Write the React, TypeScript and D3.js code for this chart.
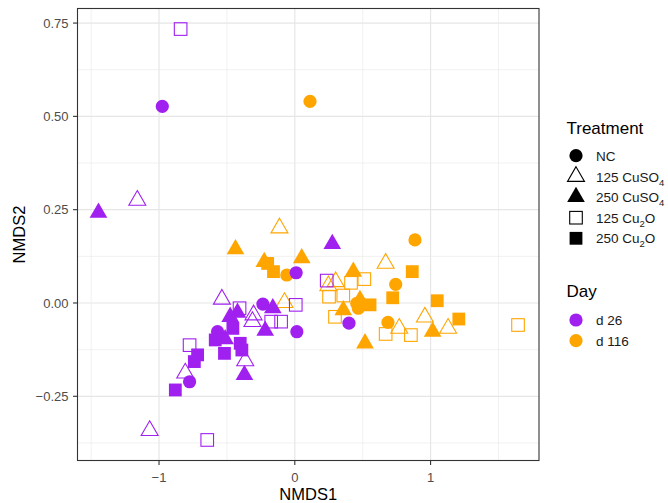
import * as d3 from "d3";
import React from "react";

// treatment / day groups, NMDS coordinates
const treatments = ["NC", "125 CuSO4", "250 CuSO4", "125 Cu2O", "250 Cu2O"];
const days = ["d 26", "d 116"];
const dayColors = ["#A020F0", "#FFA500"];

const ncD26 = [[-0.976, 0.527], [-0.235, -0.003], [0.010, 0.081], [0.015, -0.077], [-0.569, -0.077], [-0.775, -0.211], [0.399, -0.054]];
const ncD116 = [[0.112, 0.540], [0.885, 0.169], [-0.059, 0.075], [0.743, 0.050], [0.456, -0.001], [0.468, -0.014], [0.686, -0.052]];
const cuso125D26 = [[-1.160, 0.275], [-0.537, 0.010], [-0.304, -0.032], [-0.312, -0.050], [-0.365, -0.155], [-0.807, -0.188], [-1.069, -0.342]];
const cuso125D116 = [[-0.113, 0.201], [-0.076, 0.001], [0.669, 0.106], [0.301, 0.057], [0.247, 0.046], [0.958, -0.038], [0.769, -0.068], [1.129, -0.068]];
const cuso250D26 = [[-1.446, 0.242], [0.276, 0.158], [-0.422, -0.026], [-0.476, -0.037], [-0.162, -0.014], [-0.218, -0.074], [-0.513, -0.097], [-0.371, -0.193]];
const cuso250D116 = [[-0.437, 0.144], [0.051, 0.120], [-0.225, 0.110], [0.431, 0.084], [0.357, -0.019], [0.517, -0.108], [1.015, -0.077], [0.480, 0.008]];
const cu2o125D26 = [[-0.841, 0.734], [-0.407, -0.014], [0.007, -0.005], [-0.174, -0.050], [-0.101, -0.050], [-0.775, -0.113], [-0.645, -0.367], [0.235, 0.060]];
const cu2o125D116 = [[0.512, 0.064], [0.414, 0.054], [0.252, 0.017], [0.357, 0.020], [0.296, -0.037], [0.669, -0.083], [0.855, -0.086], [1.644, -0.059]];
const cu2o250D26 = [[-0.456, -0.068], [-0.586, -0.099], [-0.518, -0.135], [-0.402, -0.108], [-0.390, -0.126], [-0.716, -0.139], [-0.740, -0.157], [-0.880, -0.233]];
const cu2o250D116 = [[-0.200, 0.106], [-0.157, 0.084], [0.865, 0.084], [0.721, 0.014], [0.554, -0.005], [1.049, 0.006], [1.208, -0.043]];

const xTicks = [-1, 0, 1];
const yTicks = [0.75, 0.5, 0.25, 0, -0.25];

const groups = [
  { t: 0, d: 1, pts: ncD116 }, { t: 1, d: 1, pts: cuso125D116 }, { t: 2, d: 1, pts: cuso250D116 },
  { t: 3, d: 1, pts: cu2o125D116 }, { t: 4, d: 1, pts: cu2o250D116 },
  { t: 0, d: 0, pts: ncD26 }, { t: 1, d: 0, pts: cuso125D26 }, { t: 2, d: 0, pts: cuso250D26 },
  { t: 3, d: 0, pts: cu2o125D26 }, { t: 4, d: 0, pts: cu2o250D26 },
];

const FONT = "'Liberation Sans', Arial, Helvetica, sans-serif";
const panel = { left: 77.5, right: 539, top: 8.5, bottom: 460.5 };

const Marker = ({ t, x, y, color }: { t: number; x: number; y: number; color: string }) => {
  if (t === 0) return <circle cx={x} cy={y} r={6.6} fill={color} />;
  if (t === 1 || t === 2) {
    const r = t === 1 ? 9.8 : 10.2;
    const w = r * 0.866;
    const pts = `${x},${y - r} ${x + w},${y + r / 2} ${x - w},${y + r / 2}`;
    return t === 1
      ? <polygon points={pts} fill="none" stroke={color} strokeWidth={1.1} />
      : <polygon points={pts} fill={color} />;
  }
  if (t === 3) return <rect x={x - 6.3} y={y - 6.3} width={12.6} height={12.6} fill="none" stroke={color} strokeWidth={1.1} />;
  return <rect x={x - 6.4} y={y - 6.4} width={12.8} height={12.8} fill={color} />;
};

const LegendLabel = ({ label, x, y }: { label: string; x: number; y: number }) => {
  const props = { x, y, fontSize: 13.5, fontFamily: FONT, fill: "#1a1a1a" };
  if (label.endsWith("CuSO4")) {
    return (
      <text {...props}>
        {label.slice(0, -1)}<tspan fontSize={9.5} dy={4}>4</tspan>
      </text>
    );
  }
  if (label.endsWith("Cu2O")) {
    return (
      <text {...props}>
        {label.slice(0, -2)}<tspan fontSize={9.5} dy={4}>2</tspan><tspan dy={-4}>O</tspan>
      </text>
    );
  }
  return <text {...props}>{label}</text>;
};

export default function App() {
  const allX = groups.flatMap((g) => g.pts.map((p) => p[0]));
  const allY = groups.flatMap((g) => g.pts.map((p) => p[1]));
  const [x0, x1] = d3.extent(allX) as [number, number];
  const [y0, y1] = d3.extent(allY) as [number, number];
  const ex = (x1 - x0) * 0.05;
  const ey = (y1 - y0) * 0.05;

  const sx = d3.scaleLinear().domain([x0 - ex, x1 + ex]).range([panel.left, panel.right]);
  const sy = d3.scaleLinear().domain([y0 - ey, y1 + ey]).range([panel.bottom, panel.top]);

  const xMinor = [-1.5, -0.5, 0.5, 1.5];
  const yMinor = [0.625, 0.375, 0.125, -0.125, -0.375];
  const fmtY = (v: number) => d3.format(".2f")(v).replace("-", "\u2212");
  const fmtX = (v: number) => String(v).replace("-", "\u2212");

  const legX = 576;
  const treatY = [155.7, 176.5, 197, 217.7, 238.3];
  const dayY = [320, 340.7];

  return (
    <svg width={668} height={503} style={{ position: "absolute", left: 0, top: 0 }}>
      <rect width={668} height={503} fill="#fff" />
      {/* grid */}
      {xMinor.map((v) => (
        <line key={"xm" + v} x1={sx(v)} x2={sx(v)} y1={panel.top} y2={panel.bottom} stroke="#EBEBEB" strokeWidth={0.7} />
      ))}
      {yMinor.map((v) => (
        <line key={"ym" + v} y1={sy(v)} y2={sy(v)} x1={panel.left} x2={panel.right} stroke="#EBEBEB" strokeWidth={0.7} />
      ))}
      {xTicks.map((v) => (
        <line key={"xg" + v} x1={sx(v)} x2={sx(v)} y1={panel.top} y2={panel.bottom} stroke="#E6E6E6" strokeWidth={1.2} />
      ))}
      {yTicks.map((v) => (
        <line key={"yg" + v} y1={sy(v)} y2={sy(v)} x1={panel.left} x2={panel.right} stroke="#E6E6E6" strokeWidth={1.2} />
      ))}

      {/* points */}
      {groups.map((g, gi) =>
        g.pts.map((p, i) => (
          <Marker key={gi + "-" + i} t={g.t} x={sx(p[0])} y={sy(p[1])} color={dayColors[g.d]} />
        ))
      )}

      <rect x={panel.left} y={panel.top} width={panel.right - panel.left} height={panel.bottom - panel.top}
        fill="none" stroke="#333" strokeWidth={1.1} />

      {/* axes */}
      {xTicks.map((v) => (
        <g key={"xt" + v}>
          <line x1={sx(v)} x2={sx(v)} y1={panel.bottom} y2={panel.bottom + 4.5} stroke="#333" strokeWidth={1.1} />
          <text x={sx(v)} y={482} textAnchor="middle" fontSize={13} fontFamily={FONT} fill="#4D4D4D">{fmtX(v)}</text>
        </g>
      ))}
      {yTicks.map((v) => (
        <g key={"yt" + v}>
          <line x1={panel.left - 4.5} x2={panel.left} y1={sy(v)} y2={sy(v)} stroke="#333" strokeWidth={1.1} />
          <text x={68.5} y={sy(v) + 4.6} textAnchor="end" fontSize={13} fontFamily={FONT} fill="#4D4D4D">{fmtY(v)}</text>
        </g>
      ))}
      <text x={(panel.left + panel.right) / 2} y={500} textAnchor="middle" fontSize={16.5} fontFamily={FONT} fill="#000">NMDS1</text>
      <text transform={`translate(25,${(panel.top + panel.bottom) / 2}) rotate(-90)`} textAnchor="middle" fontSize={16.5} fontFamily={FONT} fill="#000">NMDS2</text>

      {/* legend: Treatment */}
      <text x={566.5} y={134} fontSize={17} fontFamily={FONT} fill="#000">Treatment</text>
      {treatments.map((t, i) => (
        <g key={t}>
          <Marker t={i} x={legX} y={treatY[i]} color="#000" />
          <LegendLabel label={t} x={596} y={treatY[i] + 5} />
        </g>
      ))}

      {/* legend: Day */}
      <text x={566.5} y={297} fontSize={17} fontFamily={FONT} fill="#000">Day</text>
      {days.map((d, i) => (
        <g key={d}>
          <circle cx={legX} cy={dayY[i]} r={6.6} fill={dayColors[i]} />
          <text x={596} y={dayY[i] + 5} fontSize={13.5} fontFamily={FONT} fill="#1a1a1a">{d}</text>
        </g>
      ))}
    </svg>
  );
}
